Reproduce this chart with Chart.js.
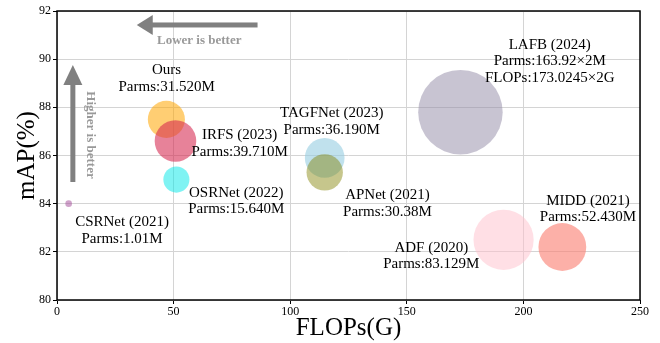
<!DOCTYPE html>
<html>
<head>
<meta charset="utf-8">
<script src="https://cdn.jsdelivr.net/npm/chart.js@4.4.0/dist/chart.umd.min.js"></script>
<style>
  html, body { margin: 0; padding: 0; background: #fff; }
  #wrap { width: 660px; height: 343px; }
</style>
</head>
<body>
<div id="wrap"><canvas id="chart" width="660" height="343"></canvas></div>
<script>
// values
const models = ['Ours', 'IRFS (2023)', 'OSRNet (2022)', 'CSRNet (2021)', 'TAGFNet (2023)', 'APNet (2021)', 'LAFB (2024)', 'ADF (2020)', 'MIDD (2021)'];
const flops = [46.9, 50.8, 51.2, 5.0, 114.8, 114.8, 173.0, 191.5, 216.7];
const mAP = [87.5, 86.6, 85.0, 84.0, 85.9, 85.3, 87.8, 82.5, 82.2];
const parms = [31.52, 39.71, 15.64, 1.01, 36.19, 30.38, 163.92, 83.129, 52.43];
const parmText = ['Parms:31.520M', 'Parms:39.710M', 'Parms:15.640M', 'Parms:1.01M', 'Parms:36.190M', 'Parms:30.38M', 'Parms:163.92×2M', 'Parms:83.129M', 'Parms:52.430M'];
const xTicks = [0, 50, 100, 150, 200, 250];
const yTicks = [80, 82, 84, 86, 88, 90, 92];

const colors = [
    'rgba(255,165,0,0.55)',
    'rgba(214,40,80,0.58)',
    'rgba(0,232,232,0.5)',
    'rgba(160,70,150,0.5)',
    'rgba(150,205,225,0.6)',
    'rgba(128,128,0,0.45)',
    'rgba(145,138,165,0.5)',
    'rgba(255,192,203,0.5)',
    'rgba(250,128,114,0.62)'
];

// where each label's first line is centred (data units)
const labelPos = [[47.0, 89.55], [78.3, 86.85], [76.9, 84.45], [27.9, 83.23], [117.8, 87.76], [141.7, 84.36], [211.3, 90.59], [160.5, 82.17], [227.7, 84.12]];

const serif = "'Liberation Serif', 'Times New Roman', serif";

const overlay = {
    id: 'overlay',
    beforeDatasetsDraw(chart) {
        // frame under the bubbles' labels
        const { ctx, chartArea: a } = chart;
        ctx.save();
        ctx.strokeStyle = '#000';
        ctx.lineWidth = 1.5;
        ctx.strokeRect(a.left, a.top, a.width, a.height);
        ctx.restore();
    },
    afterDatasetsDraw(chart) {
        const { ctx, scales: { x, y } } = chart;
        ctx.save();

        // point labels
        ctx.fillStyle = '#000';
        ctx.font = `15px ${serif}`;
        ctx.textAlign = 'center';
        ctx.textBaseline = 'middle';
        models.forEach((m, i) => {
            const lines = [m, parmText[i]];
            if (m.startsWith('LAFB')) lines.push('FLOPs:173.0245×2G');
            const px = x.getPixelForValue(labelPos[i][0]);
            const py = y.getPixelForValue(labelPos[i][1]);
            lines.forEach((t, k) => ctx.fillText(t, px, py + k * 16.6));
        });

        // "lower is better" arrow
        ctx.fillStyle = '#808080';
        let x0 = x.getPixelForValue(86), x1 = x.getPixelForValue(34.2), yy = y.getPixelForValue(91.42);
        ctx.fillRect(x1 + 15, yy - 2.5, x0 - x1 - 15, 5);
        ctx.beginPath();
        ctx.moveTo(x1, yy);
        ctx.lineTo(x1 + 16, yy - 10);
        ctx.lineTo(x1 + 16, yy + 10);
        ctx.closePath();
        ctx.fill();

        // "higher is better" arrow
        let xx = x.getPixelForValue(6.8), y0 = y.getPixelForValue(84.9), y1 = y.getPixelForValue(89.76);
        ctx.fillRect(xx - 2.5, y1 + 19, 5, y0 - y1 - 19);
        ctx.beginPath();
        ctx.moveTo(xx, y1);
        ctx.lineTo(xx - 9.5, y1 + 20);
        ctx.lineTo(xx + 9.5, y1 + 20);
        ctx.closePath();
        ctx.fill();

        ctx.fillStyle = '#999';
        ctx.font = `bold 13px ${serif}`;
        ctx.fillText('Lower is better', x.getPixelForValue(61), y.getPixelForValue(90.75));
        ctx.save();
        ctx.translate(x.getPixelForValue(14.2), y.getPixelForValue(86.85));
        ctx.rotate(Math.PI / 2);
        ctx.fillText('Higher is better', 0, 0);
        ctx.restore();
        ctx.restore();
    }
};

new Chart(document.getElementById('chart'), {
    type: 'bubble',
    data: {
        datasets: [{
            data: models.map((m, i) => ({ x: flops[i], y: mAP[i], r: 3.3 * Math.sqrt(parms[i]) })),
            backgroundColor: colors,
            borderWidth: 0,
            hoverRadius: 0,
            clip: false
        }]
    },
    options: {
        responsive: false,
        animation: false,
        events: [],
        layout: { autoPadding: false, padding: { top: 11, right: 20, left: 0, bottom: 0 } },
        plugins: { legend: { display: false }, tooltip: { enabled: false } },
        scales: {
            x: {
                type: 'linear', min: 0, max: 250,
                afterBuildTicks: s => { s.ticks = xTicks.map(v => ({ value: v })); },
                afterFit: s => { s.height = 43; },
                ticks: { color: '#000', font: { family: serif, size: 12 }, padding: 1 },
                grid: { color: '#d4d4d4', lineWidth: 1, tickColor: '#000', tickLength: 4 },
                border: { display: false },
                title: { display: true, text: 'FLOPs(G)', color: '#000', font: { family: serif, size: 25 }, padding: { top: 0, bottom: 0 } }
            },
            y: {
                type: 'linear', min: 80, max: 92,
                afterBuildTicks: s => { s.ticks = yTicks.map(v => ({ value: v })); },
                afterFit: s => { s.width = 57; },
                ticks: { color: '#000', font: { family: serif, size: 12 }, padding: 2 },
                grid: { color: '#d4d4d4', lineWidth: 1, tickColor: '#000', tickLength: 4 },
                border: { display: false },
                title: { display: true, text: 'mAP(%)', color: '#000', font: { family: serif, size: 25 }, padding: { top: 12, bottom: 0 } }
            }
        }
    },
    plugins: [overlay]
});
</script>
</body>
</html>
